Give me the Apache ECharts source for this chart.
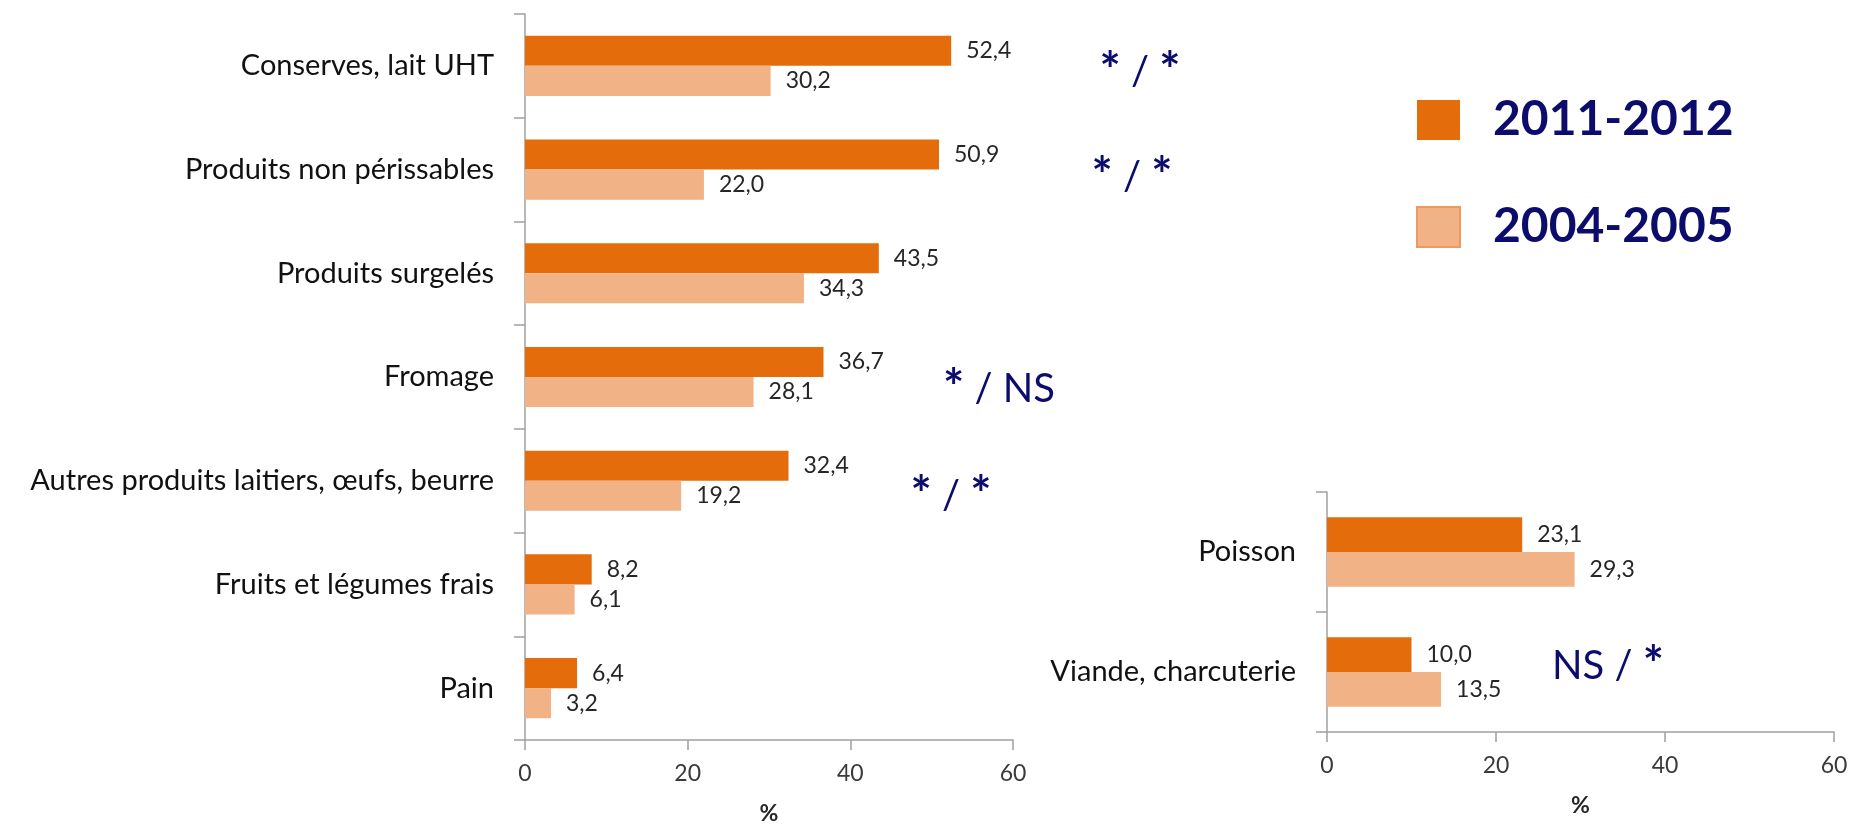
<!DOCTYPE html>
<html>
<head>
<meta charset="utf-8">
<script src="https://cdn.jsdelivr.net/npm/echarts@6/dist/echarts.min.js"></script>
<style>
  html, body { margin: 0; padding: 0; background: #ffffff; }
  #chart { width: 1852px; height: 830px; }
</style>
</head>
<body>
<div id="chart"></div>
<script>
// Food groups (main panel)
const categories = [
  'Conserves, lait UHT',
  'Produits non périssables',
  'Produits surgelés',
  'Fromage',
  'Autres produits laitiers, œufs, beurre',
  'Fruits et légumes frais',
  'Pain'
];
const values2011 = [52.4, 50.9, 43.5, 36.7, 32.4, 8.2, 6.4];
const values2004 = [30.2, 22.0, 34.3, 28.1, 19.2, 6.1, 3.2];

// Meat and fish (small panel)
const meatCategories = ['Poisson', 'Viande, charcuterie'];
const meat2011 = [23.1, 10.0];
const meat2004 = [29.3, 13.5];

// Period names
const periods = ['2011-2012', '2004-2005'];

// Significance marks (2011-2012 / 2004-2005)
const significance = ['* / *', '* / *', '* / NS', '* / *', 'NS / *'];

const axisMin = 0;
const axisMax = 60;
const axisStep = 20;

const FONT = 'Lato, "Open Sans", sans-serif';
const DARK = '#0c0c6c';
const ORANGE = '#e46c0a';
const PEACH = '#f1b385';
const AXIS_GREY = '#a0a0a0';

const fmt = v => v.toFixed(1).replace('.', ',');

function valueAxis(gridIndex) {
  return {
    type: 'value',
    gridIndex,
    min: axisMin,
    max: axisMax,
    interval: axisStep,
    name: '%',
    nameLocation: 'middle',
    nameGap: 62,
    nameTextStyle: { fontFamily: FONT, fontSize: 23, fontWeight: 'bold', color: '#262626' },
    axisLine: { show: true, lineStyle: { color: AXIS_GREY, width: 1.5 } },
    axisTick: { show: true, length: 10, lineStyle: { color: AXIS_GREY, width: 1.5 } },
    axisLabel: { margin: 22, fontFamily: FONT, fontSize: 23, color: '#3a3a3a' },
    splitLine: { show: false }
  };
}

function categoryAxis(gridIndex, data) {
  return {
    type: 'category',
    gridIndex,
    data,
    inverse: true,
    axisLine: { show: true, lineStyle: { color: AXIS_GREY, width: 1.5 } },
    axisTick: { show: true, length: 11, lineStyle: { color: AXIS_GREY, width: 1.5 } },
    axisLabel: { margin: 31, fontFamily: FONT, fontSize: 29, color: '#111111' }
  };
}

function barSeries(name, data, color, axisIndex) {
  return {
    name,
    type: 'bar',
    data,
    xAxisIndex: axisIndex,
    yAxisIndex: axisIndex,
    barGap: '0%',
    barCategoryGap: '42%',
    itemStyle: { color },
    label: {
      show: true,
      position: 'right',
      distance: 15,
      fontFamily: FONT,
      fontSize: 23,
      color: '#262626',
      formatter: p => fmt(p.value)
    },
    emphasis: { disabled: true }
  };
}

// Asterisks are set a little heavier than the rest of the mark
const richMark = s => s.replace(/\*/g, '{s|*}');

// Significance annotations: [text, centre x, middle y]
const notes = [
  [significance[0], 1140, 72],
  [significance[1], 1132, 177],
  [significance[2], 999, 389],
  [significance[3], 951, 496],
  [significance[4], 1608, 666]
];

const chart = echarts.init(document.getElementById('chart'), null, { renderer: 'canvas' });

chart.setOption({
  animation: false,
  backgroundColor: '#ffffff',
  textStyle: { fontFamily: FONT },
  grid: [
    { left: 525, top: 14, width: 488, height: 731 },
    { left: 1327, top: 492, width: 507, height: 240 }
  ],
  xAxis: [valueAxis(0), valueAxis(1)],
  yAxis: [categoryAxis(0, categories), categoryAxis(1, meatCategories)],
  legend: {
    orient: 'vertical',
    left: 1411,
    top: 91,
    icon: 'rect',
    itemWidth: 43,
    itemHeight: 40,
    itemGap: 59,
    selectedMode: false,
    data: [
      { name: periods[0] },
      { name: periods[1], itemStyle: { borderColor: '#ec9a5e', borderWidth: 2 } }
    ],
    textStyle: {
      fontFamily: FONT,
      fontSize: 48,
      fontWeight: 'bold',
      color: DARK,
      lineHeight: 40,
      padding: [0, 0, 0, 28]
    }
  },
  series: [
    barSeries(periods[0], values2011, ORANGE, 0),
    barSeries(periods[1], values2004, PEACH, 0),
    barSeries(periods[0], meat2011, ORANGE, 1),
    barSeries(periods[1], meat2004, PEACH, 1)
  ],
  graphic: notes.map(([text, x, y]) => ({
    type: 'text',
    x,
    y,
    silent: true,
    style: {
      text: richMark(text),
      fill: DARK,
      fontFamily: FONT,
      fontSize: 40,
      align: 'center',
      verticalAlign: 'middle',
      rich: {
        s: { fontFamily: FONT, fontSize: 50, fontWeight: 'bold', fill: DARK }
      }
    }
  }))
});
</script>
</body>
</html>
